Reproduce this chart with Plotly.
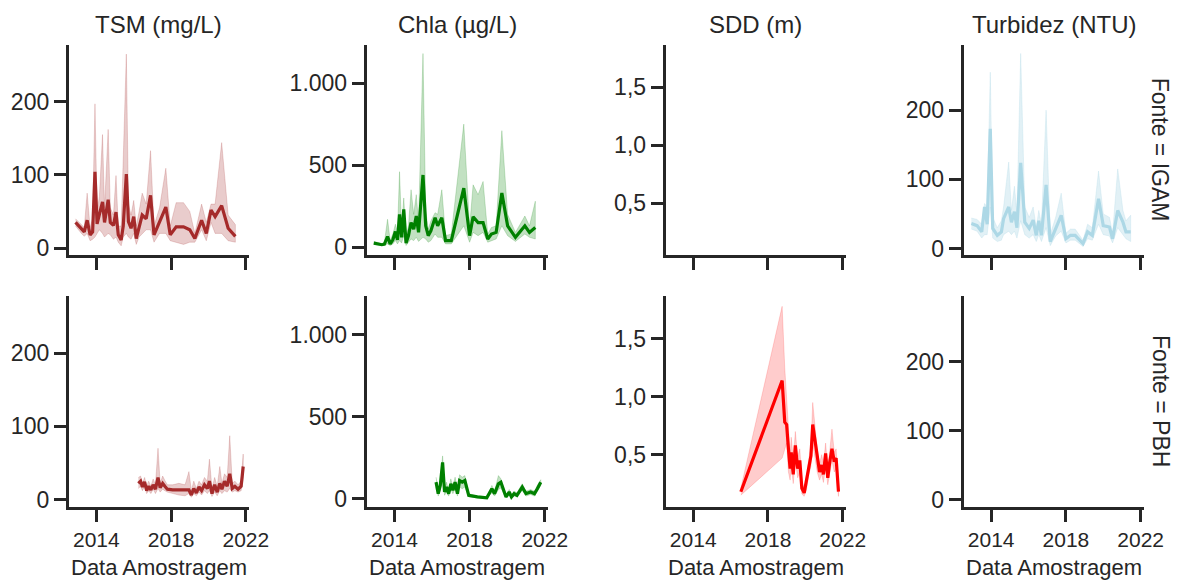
import plotly.graph_objects as go

# ---------------- data ----------------
# TSM (mg/L) - IGAM
tsm_igam_dates = ["2012-11-20", "2013-03-15", "2013-05-10", "2013-07-05", "2013-09-01", "2013-10-20",
                  "2013-12-05", "2014-01-15", "2014-03-01", "2014-05-01", "2014-06-10", "2014-08-20",
                  "2014-10-01", "2014-12-01", "2015-01-20", "2015-03-05", "2015-05-01", "2015-06-10",
                  "2015-08-10", "2015-09-20", "2015-11-10", "2016-01-01", "2016-02-20", "2016-04-15",
                  "2016-06-15", "2016-09-01", "2016-11-25", "2017-02-01", "2017-05-20", "2017-09-20",
                  "2017-12-15", "2018-04-10", "2018-09-01", "2019-01-01", "2019-04-10", "2019-08-20",
                  "2019-11-20", "2020-02-20", "2020-05-10", "2020-09-15", "2021-01-20", "2021-06-10"]
tsm_igam_mean = [35, 26, 22, 38, 18, 22, 104, 33, 45, 63, 35, 66, 35, 31, 49, 18, 11, 30, 101, 36, 27,
                 43, 13, 29, 45, 40, 72, 18, 36, 56, 18, 29, 29, 25, 13, 38, 20, 52, 43, 58, 27, 16]
tsm_igam_lo = [30, 20, 16, 20, 10, 12, 15, 20, 25, 20, 15, 20, 18, 12, 15, 8, 3, 15, 20, 15, 12,
               20, 5, 15, 20, 25, 25, 8, 20, 20, 10, 8, 5, 8, 8, 25, 10, 35, 20, 20, 10, 8]
tsm_igam_hi = [40, 32, 28, 75, 28, 40, 197, 50, 70, 155, 55, 162, 55, 45, 99, 30, 30, 121, 265, 60, 45,
               65, 30, 50, 75, 60, 133, 30, 55, 109, 30, 62, 62, 50, 20, 60, 35, 60, 60, 144, 45, 32]

# TSM (mg/L) - PBH
tsm_pbh_dates = ["2016-04-01", "2016-05-15", "2016-06-20", "2016-08-01", "2016-09-10", "2016-10-20",
                 "2016-12-01", "2017-01-15", "2017-03-01", "2017-04-20", "2017-06-01", "2017-07-20",
                 "2017-09-01", "2017-10-20", "2018-02-01", "2018-06-01", "2018-10-01", "2018-12-15",
                 "2019-02-01", "2019-03-20", "2019-05-10", "2019-07-01", "2019-08-20", "2019-10-15",
                 "2019-12-10", "2020-01-20", "2020-03-10", "2020-05-01", "2020-06-20", "2020-08-10",
                 "2020-09-20", "2020-11-10", "2021-01-01", "2021-02-20", "2021-04-10", "2021-06-01",
                 "2021-08-01", "2021-10-01", "2021-11-10"]
tsm_pbh_mean = [22, 25, 17, 24, 12, 18, 13, 20, 14, 30, 16, 22, 18, 14, 13, 13, 12, 13, 6, 15, 9, 17,
                12, 20, 15, 25, 8, 20, 10, 22, 14, 25, 18, 35, 15, 18, 14, 18, 45]
tsm_pbh_lo = [15, 18, 12, 18, 8, 12, 8, 14, 8, 15, 10, 14, 12, 10, 8, 6, 5, 8, 3, 8, 5, 10,
              6, 12, 8, 12, 4, 10, 5, 12, 8, 12, 10, 15, 10, 12, 10, 12, 30]
tsm_pbh_hi = [30, 32, 22, 30, 18, 25, 18, 28, 20, 70, 22, 32, 26, 20, 20, 22, 20, 38, 12, 25, 15, 25,
              20, 30, 25, 55, 15, 30, 18, 45, 22, 35, 30, 87, 22, 25, 20, 25, 62]

# Chla (ug/L) - IGAM
chla_igam_dates = ["2012-11-25", "2013-02-15", "2013-05-01", "2013-06-20", "2013-08-20", "2013-10-10",
                   "2013-12-01", "2014-01-20", "2014-03-01", "2014-04-10", "2014-05-20", "2014-07-01",
                   "2014-08-15", "2014-10-01", "2014-11-20", "2015-01-10", "2015-03-01", "2015-04-15",
                   "2015-07-10", "2015-09-01", "2015-10-20", "2015-12-10", "2016-03-01", "2016-04-20",
                   "2016-07-10", "2016-09-20", "2017-01-10", "2017-09-10", "2018-01-01", "2018-03-10",
                   "2018-06-15", "2018-09-20", "2018-12-20", "2019-03-01", "2019-06-01", "2019-09-20",
                   "2020-01-10", "2020-06-10", "2020-12-10", "2021-03-10", "2021-07-01"]
chla_igam_mean = [25, 20, 15, 18, 65, 20, 45, 95, 45, 200, 60, 230, 25, 70, 150, 110, 190, 90, 440, 130,
                  70, 100, 180, 130, 180, 40, 40, 360, 70, 185, 150, 150, 50, 80, 90, 330, 130, 60, 130,
                  90, 120]
chla_igam_lo = [18, 14, 10, 12, 20, 10, 20, 40, 20, 40, 25, 70, 10, 30, 50, 40, 60, 35, 60, 50,
                30, 40, 80, 60, 60, 20, 20, 130, 30, 90, 70, 90, 30, 40, 50, 130, 70, 35, 80,
                60, 50]
chla_igam_hi = [35, 28, 22, 30, 170, 40, 80, 140, 90, 460, 110, 300, 60, 130, 350, 200, 320, 150, 1180,
                220, 110, 160, 210, 200, 350, 70, 80, 750, 120, 380, 320, 400, 80, 120, 130, 710, 200,
                90, 190, 130, 280]

# Chla (ug/L) - PBH
chla_pbh_dates = ["2016-03-20", "2016-05-01", "2016-06-10", "2016-07-25", "2016-09-01", "2016-10-10",
                  "2016-11-20", "2017-01-01", "2017-02-10", "2017-03-25", "2017-05-10", "2017-06-20",
                  "2017-08-10", "2017-10-01", "2017-12-15", "2018-06-01", "2018-12-01", "2019-03-10",
                  "2019-05-01", "2019-07-15", "2019-09-01", "2019-10-25", "2019-12-10", "2020-02-10",
                  "2020-03-25", "2020-05-15", "2020-07-10", "2020-10-20", "2021-01-01", "2021-04-01",
                  "2021-06-15", "2021-08-10", "2021-10-15"]
chla_pbh_mean = [100, 30, 80, 220, 40, 70, 30, 90, 50, 100, 30, 110, 100, 110, 20, 10, 5, 60, 30, 90,
                 100, 50, 10, 40, 10, 30, 20, 70, 30, 40, 30, 60, 100]
chla_pbh_lo = [70, 15, 50, 180, 20, 40, 15, 55, 30, 60, 15, 70, 60, 70, 10, 5, 2, 35, 15, 55,
               65, 30, 5, 20, 5, 15, 10, 50, 15, 25, 15, 40, 80]
chla_pbh_hi = [130, 45, 100, 260, 60, 100, 45, 120, 70, 130, 50, 145, 130, 140, 30, 15, 10, 80, 45, 140,
               120, 70, 20, 55, 20, 45, 35, 90, 45, 55, 45, 80, 115]

# SDD (m) - PBH
sdd_pbh_dates = ["2016-07-20", "2018-10-05", "2018-11-25", "2019-01-01", "2019-02-05", "2019-03-10",
                 "2019-04-01", "2019-05-10", "2019-06-20", "2019-08-05", "2019-09-15", "2019-10-25",
                 "2019-12-10", "2020-01-25", "2020-03-10", "2020-04-20", "2020-05-25", "2020-07-05",
                 "2020-08-20", "2020-10-05", "2020-11-15", "2020-12-20", "2021-02-01", "2021-03-15",
                 "2021-04-20", "2021-06-05", "2021-07-20", "2021-08-25", "2021-10-10"]
sdd_pbh_mean = [0.18, 1.14, 0.78, 0.76, 0.55, 0.38, 0.52, 0.33, 0.58, 0.38, 0.45, 0.21, 0.17, 0.27,
                0.40, 0.49, 0.76, 0.63, 0.45, 0.35, 0.41, 0.33, 0.51, 0.30, 0.43, 0.55, 0.44, 0.47, 0.18]
sdd_pbh_lo = [0.15, 0.47, 0.55, 0.60, 0.35, 0.28, 0.40, 0.25, 0.45, 0.30, 0.35, 0.16, 0.14, 0.20,
              0.33, 0.40, 0.60, 0.50, 0.35, 0.28, 0.33, 0.26, 0.40, 0.24, 0.35, 0.45, 0.35, 0.38, 0.14]
sdd_pbh_hi = [0.21, 1.78, 1.25, 0.95, 0.75, 0.50, 0.65, 0.45, 0.70, 0.48, 0.55, 0.27, 0.20, 0.33,
              0.48, 0.58, 0.95, 0.75, 0.55, 0.42, 0.50, 0.42, 0.60, 0.37, 0.52, 0.72, 0.52, 0.55, 0.22]

# Turbidez (NTU) - IGAM
turb_igam_dates = ["2012-12-10", "2013-04-01", "2013-07-01", "2013-08-25", "2013-10-15", "2013-12-15",
                   "2014-02-01", "2014-05-01", "2014-07-20", "2014-09-01", "2014-12-10", "2015-02-01",
                   "2015-04-01", "2015-05-20", "2015-08-01", "2015-10-20", "2016-01-15", "2016-04-01",
                   "2016-06-01", "2016-07-20", "2016-09-10", "2016-12-10", "2017-03-01", "2017-06-15",
                   "2017-10-01", "2018-01-01", "2018-04-01", "2018-07-01", "2018-12-01", "2019-03-01",
                   "2019-06-01", "2019-10-01", "2020-01-01", "2020-05-01", "2020-07-01", "2020-10-10",
                   "2021-01-20", "2021-03-20", "2021-06-20"]
turb_igam_mean = [36, 33, 24, 60, 35, 173, 29, 19, 24, 43, 60, 38, 53, 30, 124, 38, 29, 41, 19, 40, 19,
                  92, 10, 30, 48, 14, 19, 19, 7, 24, 19, 72, 33, 31, 14, 55, 38, 24, 24]
turb_igam_lo = [28, 25, 15, 20, 20, 60, 15, 10, 12, 20, 25, 20, 25, 15, 40, 20, 15, 20, 10, 20, 10,
                30, 4, 18, 25, 8, 12, 12, 3, 14, 12, 35, 20, 18, 8, 30, 20, 14, 10]
turb_igam_hi = [44, 42, 35, 65, 60, 255, 45, 30, 40, 60, 125, 55, 90, 50, 282, 60, 45, 60, 30, 55, 35,
                200, 20, 45, 80, 22, 28, 28, 12, 35, 30, 112, 50, 45, 22, 115, 55, 40, 48]

# facet layout: columns are variables, rows are sources
col_titles = ["TSM (mg/L)", "Chla (µg/L)", "SDD (m)", "Turbidez (NTU)"]
row_titles = ["Fonte = IGAM", "Fonte = PBH"]
y_tickvals = [[0, 100, 200], [0, 500, 1000], [0.5, 1.0, 1.5], [0, 100, 200]]
y_ticktext = [["0", "100", "200"], ["0", "500", "1.000"], ["0,5", "1,0", "1,5"], ["0", "100", "200"]]
y_ranges = [[-10, 278], [-50, 1235], [0.05, 1.87], [-10, 295]]
x_tickvals = ["2014-01-01", "2018-01-01", "2022-01-01"]
x_ticktext = ["2014", "2018", "2022"]
x_range = ["2012-07-12", "2022-02-27"]
x_title = "Data Amostragem"

# (row, col, dates, mean, lo, hi, line colour, band colour)
series = [
    (0, 0, tsm_igam_dates, tsm_igam_mean, tsm_igam_lo, tsm_igam_hi, "#a52a2a", "rgba(165,42,42,0.24)"),
    (1, 0, tsm_pbh_dates, tsm_pbh_mean, tsm_pbh_lo, tsm_pbh_hi, "#a52a2a", "rgba(165,42,42,0.24)"),
    (0, 1, chla_igam_dates, chla_igam_mean, chla_igam_lo, chla_igam_hi, "#008000", "rgba(0,128,0,0.24)"),
    (1, 1, chla_pbh_dates, chla_pbh_mean, chla_pbh_lo, chla_pbh_hi, "#008000", "rgba(0,128,0,0.24)"),
    (1, 2, sdd_pbh_dates, sdd_pbh_mean, sdd_pbh_lo, sdd_pbh_hi, "#ff0000", "rgba(255,0,0,0.2)"),
    (0, 3, turb_igam_dates, turb_igam_mean, turb_igam_lo, turb_igam_hi, "#add8e6", "rgba(173,216,230,0.35)"),
]

# ---------------- geometry (pixels) ----------------
W, H = 1197, 587
col_px = [(70, 253), (373, 557), (677, 860), (980, 1163)]
row_px = [(45, 258), (299, 512)]
INK = "#262626"
FONT = "Liberation Sans, Arial, sans-serif"

fig = go.Figure()


def axis_refs(r, c):
    k = r * 4 + c + 1
    return ("x" if k == 1 else f"x{k}"), ("y" if k == 1 else f"y{k}"), ("" if k == 1 else str(k))


# an empty trace on every panel so that facets without data still draw their axes
for r in range(2):
    for c in range(4):
        xa, ya, _ = axis_refs(r, c)
        fig.add_trace(go.Scatter(x=[None], y=[None], mode="lines", showlegend=False,
                                 hoverinfo="skip", xaxis=xa, yaxis=ya))

for r, c, d, m, lo, hi, lc, bc in series:
    xa, ya, _ = axis_refs(r, c)
    fig.add_trace(go.Scatter(
        x=d + d[::-1], y=hi + lo[::-1], fill="toself", fillcolor=bc,
        line=dict(width=0.8, color=bc), mode="lines", hoverinfo="skip",
        showlegend=False, xaxis=xa, yaxis=ya))
    fig.add_trace(go.Scatter(
        x=d, y=m, mode="lines", line=dict(color=lc, width=3.2),
        showlegend=False, xaxis=xa, yaxis=ya))

layout = {}
for r in range(2):
    for c in range(4):
        _, _, suffix = axis_refs(r, c)
        x0, x1 = col_px[c]
        yt, yb = row_px[r]
        layout["xaxis" + suffix] = dict(
            domain=[x0 / W, x1 / W], anchor="y" + suffix, type="date",
            range=x_range, tickvals=x_tickvals, ticktext=x_ticktext,
            showticklabels=(r == 1), showgrid=False, zeroline=False,
            showline=True, linecolor=INK, linewidth=3,
            ticks="outside", ticklen=12, tickwidth=3, tickcolor=INK,
            tickfont=dict(size=21, color=INK, family=FONT))
        layout["yaxis" + suffix] = dict(
            domain=[1 - yb / H, 1 - yt / H], anchor="x" + suffix,
            range=y_ranges[c], tickvals=y_tickvals[c], ticktext=y_ticktext[c],
            showgrid=False, zeroline=False,
            showline=True, linecolor=INK, linewidth=3,
            ticks="outside", ticklen=12, tickwidth=3, tickcolor=INK,
            tickfont=dict(size=23, color=INK, family=FONT))

annotations = []
for c, t in enumerate(col_titles):
    x0, x1 = col_px[c]
    annotations.append(dict(
        text=t, xref="paper", yref="paper", x=(x0 + x1) / 2 / W, y=1 - 25 / H,
        xanchor="center", yanchor="middle", showarrow=False,
        font=dict(size=24, color=INK, family=FONT)))
    annotations.append(dict(
        text=x_title, xref="paper", yref="paper", x=(x0 + x1) / 2 / W, y=0,
        xanchor="center", yanchor="bottom", showarrow=False, borderpad=0,
        font=dict(size=22, color=INK, family=FONT)))
for r, t in enumerate(row_titles):
    yt, yb = row_px[r]
    annotations.append(dict(
        text=t, xref="paper", yref="paper", x=1180 / W, y=1 - (yt + yb) / 2 / H,
        xanchor="center", yanchor="middle", showarrow=False, textangle=90,
        font=dict(size=23, color=INK, family=FONT)))

fig.update_layout(
    width=W, height=H, margin=dict(l=0, r=0, t=0, b=0),
    paper_bgcolor="white", plot_bgcolor="white",
    annotations=annotations, **layout)

fig.write_html("out.html")
